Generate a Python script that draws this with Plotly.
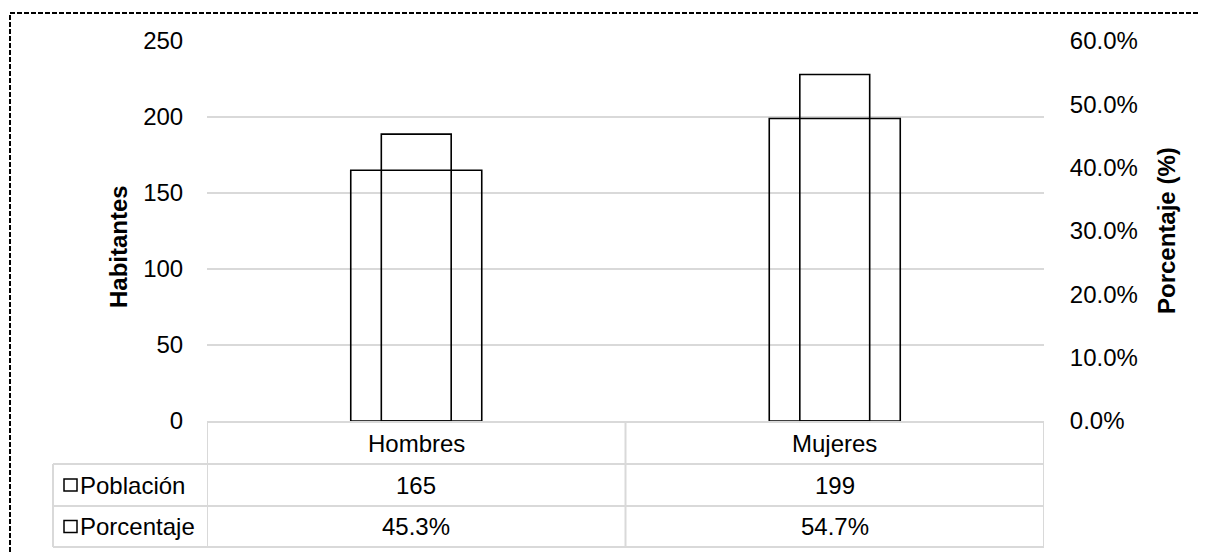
import plotly.graph_objects as go

categories = ["Hombres", "Mujeres"]
poblacion = [165, 199]
porcentaje = [0.453, 0.547]
series_names = ["Población", "Porcentaje"]
poblacion_labels = ["165", "199"]
porcentaje_labels = ["45.3%", "54.7%"]

FONT = "Liberation Sans, Arial, sans-serif"
FS = 24
GRID = "#d9d9d9"

OFF = 8  # page body margin
W, H = 1208 - OFF, 554 - OFF
# plot area in reference (page) pixels
L, R, T, B = 207, 1044, 41, 421

def px_x(px):
    return (px - L) / (R - L)

def px_y(py):
    return (B - py) / (B - T)

fig = go.Figure()
fig.add_trace(go.Bar(
    x=categories, y=poblacion, name=series_names[0], width=0.313,
    marker=dict(color="rgba(0,0,0,0)", line=dict(color="black", width=1.6)),
    yaxis="y", hoverinfo="skip"))
fig.add_trace(go.Bar(
    x=categories, y=porcentaje, name=series_names[1], width=0.167,
    marker=dict(color="rgba(0,0,0,0)", line=dict(color="black", width=1.6)),
    yaxis="y2", hoverinfo="skip"))

fig.update_layout(
    width=W, height=H,
    margin=dict(l=L - OFF, r=W - (R - OFF), t=T - OFF, b=H - (B - OFF), pad=0),
    paper_bgcolor="white", plot_bgcolor="white",
    barmode="overlay", showlegend=False,
    font=dict(family=FONT, size=FS, color="black"),
    xaxis=dict(range=[-0.5, 1.5], showticklabels=False, showgrid=False,
               zeroline=False, showline=False, ticks=""),
    yaxis=dict(range=[0, 250], dtick=50, showgrid=True, gridcolor=GRID, gridwidth=1.5,
               zeroline=False, showline=False, ticks="outside", ticklen=18,
               tickcolor="rgba(0,0,0,0)", tickfont=dict(family=FONT, size=FS)),
    yaxis2=dict(range=[0, 0.6], dtick=0.1, tickformat=".1%", overlaying="y", side="right",
                showgrid=False, zeroline=False, showline=False, ticks="outside", ticklen=20,
                tickcolor="rgba(0,0,0,0)", tickfont=dict(family=FONT, size=FS)),
)

shapes = []
line_style = dict(color=GRID, width=2)
row_y = [422, 464, 506, 547]
shapes.append(dict(type="line", xref="paper", yref="paper", x0=0, x1=1,
                   y0=px_y(row_y[0]), y1=px_y(row_y[0]), line=line_style))
for ry in row_y[1:]:
    shapes.append(dict(type="line", xref="paper", yref="paper", x0=px_x(53), x1=1,
                       y0=px_y(ry), y1=px_y(ry), line=line_style))
for xv in [-0.5, 0.5, 1.5]:
    shapes.append(dict(type="line", xref="x", yref="paper", x0=xv, x1=xv,
                       y0=px_y(row_y[0]), y1=px_y(row_y[-1]), line=line_style))
shapes.append(dict(type="line", xref="paper", yref="paper", x0=px_x(53), x1=px_x(53),
                   y0=px_y(row_y[1]), y1=px_y(row_y[-1]), line=line_style))
for i in range(2):
    cy = (row_y[i + 1] + row_y[i + 2]) / 2
    shapes.append(dict(type="rect", xref="paper", yref="paper",
                       x0=px_x(64), x1=px_x(77), y0=px_y(cy - 6), y1=px_y(cy + 6),
                       line=dict(color="black", width=1.5), fillcolor="white"))
shapes.append(dict(type="rect", xref="paper", yref="paper",
                   x0=px_x(10), x1=px_x(1230), y0=px_y(13), y1=px_y(620),
                   line=dict(color="black", width=2, dash="5px,2px")))
fig.update_layout(shapes=shapes)

ann = []
ann.append(dict(text="<b>Habitantes</b>", xref="paper", yref="paper", x=px_x(118), y=px_y(247),
                textangle=-90, showarrow=False, xanchor="center", yanchor="middle"))
ann.append(dict(text="<b>Porcentaje (%)</b>", xref="paper", yref="paper", x=px_x(1166), y=px_y(231),
                textangle=-90, showarrow=False, xanchor="center", yanchor="middle"))
row_centers = [(row_y[i] + row_y[i + 1]) / 2 for i in range(3)]
for c, cat in enumerate(categories):
    for r, txt in enumerate([cat, poblacion_labels[c], porcentaje_labels[c]]):
        ann.append(dict(text=txt, xref="x", yref="paper", x=c, y=px_y(row_centers[r]),
                        showarrow=False, xanchor="center", yanchor="middle"))
for i, nm in enumerate(series_names):
    ann.append(dict(text=nm, xref="paper", yref="paper", x=px_x(78), y=px_y(row_centers[i + 1]),
                    showarrow=False, xanchor="left", yanchor="middle"))
fig.update_layout(annotations=ann)

fig.write_html("out.html")
